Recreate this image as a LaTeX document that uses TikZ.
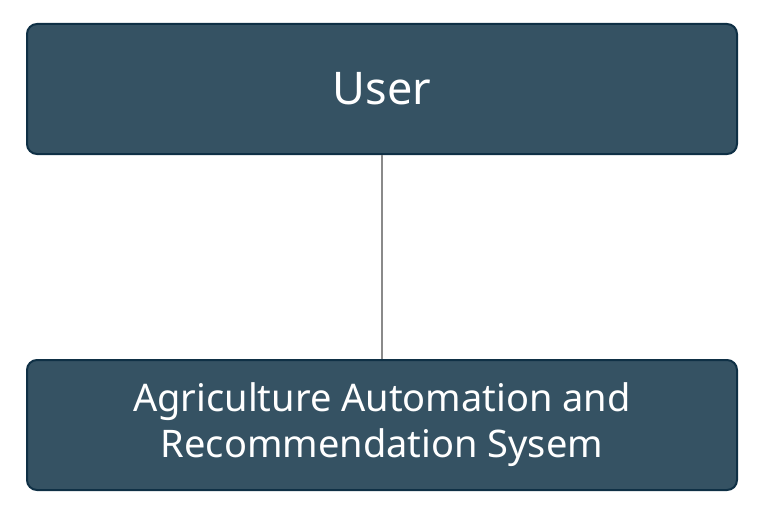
\documentclass[tikz,border=0pt]{standalone}
\usepackage{fontspec}
\setmainfont{Noto Sans}
\definecolor{boxfill}{HTML}{355263}
\definecolor{boxline}{HTML}{0F3045}
\definecolor{linkgray}{HTML}{8A8A8A}

\tikzset{
  block/.style={draw=boxline,fill=boxfill,line width=2pt,rounded corners=10pt,
    text=white,align=center,minimum width=710pt,minimum height=130pt,inner sep=0pt},
  link/.style={draw=linkgray,line width=2.5pt}
}

\begin{document}
\begin{tikzpicture}[x=1pt,y=-1pt]
  \useasboundingbox (0,0) rectangle (765,516);
  \node[block,font=\fontsize{45}{50}\selectfont] (user) at (382,89) {User};
  \node[block,font=\fontsize{38}{46}\selectfont] (system) at (382,425)
    {Agriculture Automation and\\Recommendation Sysem};
  \draw[link] (user) -- (system);
\end{tikzpicture}
\end{document}
